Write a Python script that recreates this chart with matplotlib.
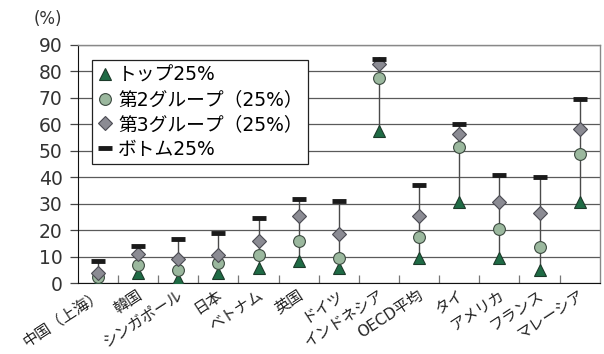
import numpy as np
import matplotlib
matplotlib.use('Agg')
import matplotlib.pyplot as plt
import matplotlib.transforms as mtransforms
from matplotlib.ticker import FixedLocator

# 数字は DejaVu、日本語は Noto Sans CJK JP
plt.rcParams['font.family'] = ['DejaVu Sans', 'Noto Sans CJK JP']

# データ
countries = ['中国（上海）', '韓国', 'シンガポール', '日本', 'ベトナム', '英国', 'ドイツ',
             'インドネシア', 'OECD平均', 'タイ', 'アメリカ', 'フランス', 'マレーシア']
top25 = [0.5, 3.8, 1.5, 4.0, 5.7, 8.4, 5.7, 57.6, 9.4, 30.5, 9.4, 4.8, 30.5]
group2 = [2.5, 6.9, 5.0, 7.5, 10.7, 16.1, 9.4, 77.6, 17.6, 51.4, 20.4, 13.8, 48.7]
group3 = [4.0, 11.1, 9.0, 10.7, 16.1, 25.5, 18.6, 82.7, 25.2, 56.3, 30.7, 26.4, 58.2]
bottom25 = [8.2, 14.2, 16.8, 19.1, 24.6, 31.8, 31.2, 84.7, 37.1, 60.2, 40.9, 40.3, 69.6]
labels = ['トップ25%', '第2グループ（25%）', '第3グループ（25%）', 'ボトム25%']

fig = plt.figure(figsize=(6.04, 3.54), dpi=100)
ax = fig.add_axes([0.129, 0.2, 0.864, 0.673])

x = np.arange(len(countries))
series = np.array([top25, group2, group3, bottom25])

# 高低線
ax.vlines(x, series.min(axis=0), series.max(axis=0), color='#4a4a4a', lw=1.0, zorder=2)

ax.plot(x, top25, ls='none', marker='^', ms=8.5, mfc='#1f6b45', mec='#1c3a2a', mew=0.8,
        label=labels[0], zorder=3)
ax.plot(x, group2, ls='none', marker='o', ms=8.5, mfc='#9bb89e', mec='#3c4a40', mew=0.8,
        label=labels[1], zorder=4)
ax.plot(x, group3, ls='none', marker='D', ms=7, mfc='#8b8b93', mec='#4a4a52', mew=0.8,
        label=labels[2], zorder=5)
ax.plot(x, bottom25, ls='none', marker='_', ms=10, mec='#1a1a1a', mew=3.5,
        label=labels[3], zorder=6)

# 軸
ax.set_xlim(-0.5, len(countries) - 0.5)
ax.set_ylim(0, 90)
ax.set_yticks(np.arange(0, 91, 10))
ax.yaxis.grid(True, color='#5a5a5a', lw=0.9)
ax.set_axisbelow(True)
ax.tick_params(axis='y', length=6, width=0.9, labelsize=13.5, pad=5,
               color='#444444', labelcolor='#333333')

ax.set_xticks(x)
ax.set_xticklabels(countries, rotation=33, ha='right', va='top', fontsize=11,
                   color='#222222')
ax.tick_params(axis='x', which='major', length=0, pad=3)
shift = mtransforms.ScaledTranslation(7 / 100, 0, fig.dpi_scale_trans)
for lab in ax.get_xticklabels():
    lab.set_transform(lab.get_transform() + shift)
ax.xaxis.set_minor_locator(FixedLocator(np.arange(0.5, len(countries) - 1, 1)))
ax.tick_params(axis='x', which='minor', direction='in', length=6, width=0.9, color='#777777')

for s in ['top', 'right']:
    ax.spines[s].set_color('#888888')
    ax.spines[s].set_linewidth(1.0)
ax.spines['left'].set_color('#111111')
ax.spines['bottom'].set_color('#111111')

fig.text(0.055, 0.945, '(%)', fontsize=12, ha='left', va='center', color='#333333')

leg = ax.legend(loc='upper left', bbox_to_anchor=(14 / 522, 1 - 15 / 238),
                borderaxespad=0, fontsize=13.5, frameon=True, fancybox=False,
                framealpha=1, edgecolor='#222222', handlelength=0.8,
                handletextpad=0.3, labelspacing=0.3, borderpad=0.3)
leg.get_frame().set_linewidth(0.9)
leg.set_zorder(10)

fig.savefig('out.png', dpi=100)
